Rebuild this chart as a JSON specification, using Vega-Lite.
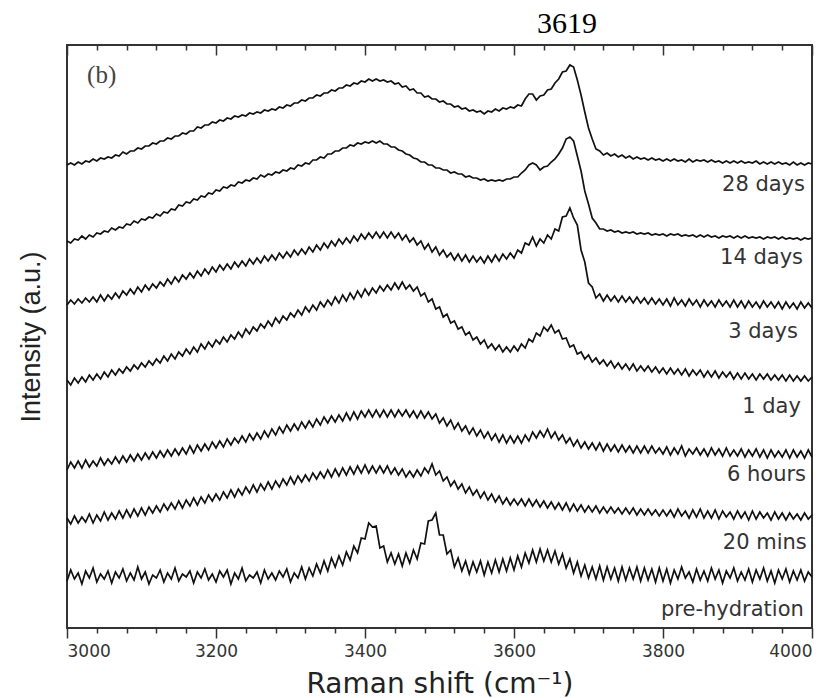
{
  "$schema": "https://vega.github.io/schema/vega-lite/v6.json",
  "width": 745,
  "height": 583,
  "autosize": "none",
  "padding": {"left": 67, "top": 45, "right": 26, "bottom": 70},
  "background": "white",
  "config": {"view": {"stroke": "#333", "strokeWidth": 2}, "font": "Liberation Sans", "axis": {"ticks": true}},
  "datasets": {
    "spectra": [
      {"x":3000,"a":463,"b":387,"c":323,"d":248,"e":158,"f":110,"g":47},
      {"x":3005,"a":465,"b":385,"c":328,"d":243,"e":166,"f":104,"g":58},
      {"x":3010,"a":463,"b":389,"c":324,"d":250,"e":160,"f":112,"g":49},
      {"x":3015,"a":466,"b":388,"c":329,"d":245,"e":167,"f":105,"g":55},
      {"x":3020,"a":464,"b":392,"c":325,"d":251,"e":160,"f":111,"g":44},
      {"x":3025,"a":467,"b":389,"c":330,"d":246,"e":168,"f":106,"g":57},
      {"x":3030,"a":466,"b":393,"c":326,"d":253,"e":161,"f":114,"g":50},
      {"x":3035,"a":469,"b":391,"c":331,"d":248,"e":167,"f":105,"g":60},
      {"x":3040,"a":467,"b":395,"c":326,"d":254,"e":162,"f":113,"g":46},
      {"x":3045,"a":470,"b":394,"c":333,"d":249,"e":170,"f":107,"g":54},
      {"x":3050,"a":469,"b":397,"c":327,"d":256,"e":163,"f":116,"g":49},
      {"x":3055,"a":471,"b":396,"c":333,"d":251,"e":169,"f":108,"g":57},
      {"x":3060,"a":470,"b":400,"c":329,"d":258,"e":164,"f":115,"g":45},
      {"x":3065,"a":473,"b":398,"c":335,"d":253,"e":171,"f":109,"g":56},
      {"x":3070,"a":472,"b":401,"c":330,"d":259,"e":165,"f":117,"g":50},
      {"x":3075,"a":476,"b":400,"c":337,"d":255,"e":172,"f":110,"g":59},
      {"x":3080,"a":474,"b":404,"c":333,"d":261,"e":166,"f":118,"g":47},
      {"x":3085,"a":477,"b":403,"c":339,"d":257,"e":173,"f":111,"g":55},
      {"x":3090,"a":477,"b":407,"c":334,"d":263,"e":167,"f":119,"g":48},
      {"x":3095,"a":480,"b":405,"c":341,"d":259,"e":174,"f":112,"g":61},
      {"x":3100,"a":479,"b":409,"c":336,"d":265,"e":168,"f":120,"g":49},
      {"x":3105,"a":482,"b":408,"c":343,"d":261,"e":175,"f":113,"g":56},
      {"x":3110,"a":482,"b":411,"c":338,"d":267,"e":169,"f":121,"g":44},
      {"x":3115,"a":485,"b":410,"c":344,"d":263,"e":176,"f":115,"g":53},
      {"x":3120,"a":484,"b":414,"c":340,"d":269,"e":170,"f":122,"g":50},
      {"x":3125,"a":487,"b":412,"c":346,"d":265,"e":177,"f":116,"g":58},
      {"x":3130,"a":487,"b":416,"c":342,"d":272,"e":171,"f":124,"g":46},
      {"x":3135,"a":490,"b":415,"c":349,"d":267,"e":178,"f":118,"g":55},
      {"x":3140,"a":489,"b":419,"c":344,"d":274,"e":172,"f":125,"g":49},
      {"x":3145,"a":492,"b":418,"c":351,"d":269,"e":179,"f":119,"g":60},
      {"x":3150,"a":492,"b":423,"c":346,"d":276,"e":173,"f":127,"g":47},
      {"x":3155,"a":495,"b":422,"c":353,"d":272,"e":180,"f":120,"g":54},
      {"x":3160,"a":494,"b":426,"c":349,"d":279,"e":174,"f":128,"g":51},
      {"x":3165,"a":497,"b":425,"c":355,"d":274,"e":182,"f":122,"g":57},
      {"x":3170,"a":497,"b":429,"c":350,"d":281,"e":175,"f":130,"g":45},
      {"x":3175,"a":501,"b":428,"c":357,"d":276,"e":183,"f":123,"g":56},
      {"x":3180,"a":500,"b":432,"c":352,"d":284,"e":177,"f":131,"g":50},
      {"x":3185,"a":503,"b":431,"c":359,"d":279,"e":184,"f":125,"g":59},
      {"x":3190,"a":503,"b":435,"c":354,"d":286,"e":178,"f":133,"g":48},
      {"x":3195,"a":506,"b":434,"c":361,"d":281,"e":186,"f":127,"g":54},
      {"x":3200,"a":505,"b":438,"c":356,"d":288,"e":180,"f":134,"g":46},
      {"x":3205,"a":508,"b":437,"c":363,"d":284,"e":187,"f":128,"g":57},
      {"x":3210,"a":507,"b":441,"c":358,"d":291,"e":181,"f":136,"g":51},
      {"x":3215,"a":510,"b":440,"c":364,"d":286,"e":189,"f":130,"g":58},
      {"x":3220,"a":509,"b":443,"c":359,"d":293,"e":183,"f":138,"g":44},
      {"x":3225,"a":512,"b":442,"c":366,"d":289,"e":190,"f":131,"g":55},
      {"x":3230,"a":511,"b":446,"c":361,"d":296,"e":185,"f":139,"g":49},
      {"x":3235,"a":513,"b":445,"c":367,"d":291,"e":192,"f":133,"g":60},
      {"x":3240,"a":512,"b":448,"c":362,"d":299,"e":186,"f":141,"g":47},
      {"x":3245,"a":515,"b":447,"c":369,"d":294,"e":194,"f":135,"g":53},
      {"x":3250,"a":514,"b":450,"c":364,"d":301,"e":188,"f":143,"g":50},
      {"x":3255,"a":516,"b":449,"c":370,"d":297,"e":195,"f":136,"g":56},
      {"x":3260,"a":515,"b":453,"c":365,"d":304,"e":189,"f":144,"g":45},
      {"x":3265,"a":518,"b":451,"c":372,"d":300,"e":197,"f":138,"g":58},
      {"x":3270,"a":517,"b":454,"c":367,"d":307,"e":191,"f":146,"g":49},
      {"x":3275,"a":519,"b":453,"c":373,"d":302,"e":199,"f":139,"g":55},
      {"x":3280,"a":518,"b":456,"c":368,"d":310,"e":193,"f":147,"g":48},
      {"x":3285,"a":521,"b":455,"c":375,"d":305,"e":201,"f":141,"g":57},
      {"x":3290,"a":520,"b":458,"c":370,"d":312,"e":195,"f":149,"g":51},
      {"x":3295,"a":523,"b":457,"c":376,"d":308,"e":203,"f":143,"g":59},
      {"x":3300,"a":522,"b":460,"c":371,"d":315,"e":197,"f":151,"g":46},
      {"x":3305,"a":525,"b":459,"c":378,"d":311,"e":204,"f":144,"g":55},
      {"x":3310,"a":525,"b":463,"c":373,"d":318,"e":198,"f":152,"g":50},
      {"x":3315,"a":528,"b":462,"c":379,"d":313,"e":206,"f":146,"g":61},
      {"x":3320,"a":527,"b":465,"c":374,"d":321,"e":200,"f":153,"g":49},
      {"x":3325,"a":530,"b":464,"c":381,"d":316,"e":207,"f":147,"g":60},
      {"x":3330,"a":530,"b":468,"c":376,"d":323,"e":201,"f":155,"g":52},
      {"x":3335,"a":533,"b":468,"c":383,"d":318,"e":209,"f":149,"g":64},
      {"x":3340,"a":532,"b":471,"c":378,"d":326,"e":203,"f":156,"g":55},
      {"x":3345,"a":535,"b":470,"c":385,"d":321,"e":211,"f":150,"g":67},
      {"x":3350,"a":535,"b":474,"c":380,"d":328,"e":205,"f":158,"g":57},
      {"x":3355,"a":538,"b":474,"c":387,"d":323,"e":212,"f":151,"g":70},
      {"x":3360,"a":537,"b":477,"c":382,"d":331,"e":206,"f":159,"g":61},
      {"x":3365,"a":540,"b":477,"c":389,"d":325,"e":213,"f":152,"g":72},
      {"x":3370,"a":540,"b":480,"c":384,"d":333,"e":207,"f":160,"g":63},
      {"x":3375,"a":543,"b":480,"c":390,"d":327,"e":215,"f":153,"g":76},
      {"x":3380,"a":542,"b":483,"c":385,"d":335,"e":208,"f":161,"g":68},
      {"x":3385,"a":545,"b":482,"c":392,"d":329,"e":216,"f":154,"g":82},
      {"x":3390,"a":544,"b":485,"c":387,"d":337,"e":209,"f":162,"g":75},
      {"x":3395,"a":547,"b":484,"c":394,"d":331,"e":217,"f":155,"g":90},
      {"x":3400,"a":546,"b":486,"c":389,"d":339,"e":211,"f":163,"g":89},
      {"x":3405,"a":549,"b":485,"c":395,"d":333,"e":218,"f":155,"g":105},
      {"x":3410,"a":547,"b":487,"c":390,"d":340,"e":211,"f":162,"g":101},
      {"x":3415,"a":549,"b":485,"c":396,"d":335,"e":218,"f":155,"g":102},
      {"x":3420,"a":547,"b":487,"c":390,"d":342,"e":211,"f":162,"g":80},
      {"x":3425,"a":548,"b":484,"c":396,"d":337,"e":218,"f":155,"g":82},
      {"x":3430,"a":546,"b":484,"c":390,"d":343,"e":211,"f":162,"g":66},
      {"x":3435,"a":547,"b":481,"c":396,"d":338,"e":218,"f":154,"g":75},
      {"x":3440,"a":544,"b":481,"c":390,"d":345,"e":211,"f":160,"g":64},
      {"x":3445,"a":545,"b":478,"c":395,"d":339,"e":218,"f":153,"g":74},
      {"x":3450,"a":541,"b":477,"c":388,"d":346,"e":212,"f":159,"g":62},
      {"x":3455,"a":542,"b":474,"c":393,"d":339,"e":218,"f":151,"g":75},
      {"x":3460,"a":538,"b":473,"c":386,"d":343,"e":211,"f":157,"g":65},
      {"x":3465,"a":539,"b":470,"c":390,"d":337,"e":217,"f":151,"g":78},
      {"x":3470,"a":535,"b":469,"c":383,"d":341,"e":210,"f":158,"g":69},
      {"x":3475,"a":535,"b":466,"c":387,"d":332,"e":217,"f":152,"g":85},
      {"x":3480,"a":531,"b":466,"c":379,"d":335,"e":210,"f":160,"g":84},
      {"x":3485,"a":532,"b":463,"c":384,"d":326,"e":216,"f":155,"g":107},
      {"x":3490,"a":529,"b":463,"c":376,"d":329,"e":209,"f":164,"g":108},
      {"x":3495,"a":529,"b":460,"c":381,"d":319,"e":214,"f":153,"g":115},
      {"x":3500,"a":526,"b":460,"c":373,"d":321,"e":205,"f":157,"g":93},
      {"x":3505,"a":527,"b":458,"c":378,"d":311,"e":210,"f":147,"g":93},
      {"x":3510,"a":524,"b":458,"c":371,"d":314,"e":202,"f":151,"g":74},
      {"x":3515,"a":524,"b":455,"c":375,"d":305,"e":208,"f":142,"g":78},
      {"x":3520,"a":521,"b":456,"c":368,"d":307,"e":199,"f":147,"g":61},
      {"x":3525,"a":522,"b":454,"c":374,"d":299,"e":205,"f":139,"g":70},
      {"x":3530,"a":519,"b":454,"c":367,"d":301,"e":197,"f":144,"g":57},
      {"x":3535,"a":520,"b":451,"c":373,"d":293,"e":202,"f":135,"g":67},
      {"x":3540,"a":517,"b":452,"c":366,"d":296,"e":194,"f":141,"g":54},
      {"x":3545,"a":518,"b":450,"c":372,"d":288,"e":200,"f":133,"g":66},
      {"x":3550,"a":516,"b":450,"c":366,"d":291,"e":192,"f":138,"g":56},
      {"x":3555,"a":517,"b":448,"c":371,"d":284,"e":198,"f":130,"g":67},
      {"x":3560,"a":514,"b":449,"c":365,"d":288,"e":190,"f":136,"g":53},
      {"x":3565,"a":517,"b":447,"c":372,"d":280,"e":196,"f":128,"g":66},
      {"x":3570,"a":516,"b":448,"c":366,"d":284,"e":188,"f":134,"g":55},
      {"x":3575,"a":519,"b":447,"c":373,"d":278,"e":194,"f":126,"g":68},
      {"x":3580,"a":517,"b":448,"c":367,"d":283,"e":186,"f":132,"g":56},
      {"x":3585,"a":520,"b":447,"c":374,"d":276,"e":193,"f":124,"g":69},
      {"x":3590,"a":519,"b":449,"c":369,"d":281,"e":185,"f":130,"g":57},
      {"x":3595,"a":521,"b":449,"c":375,"d":276,"e":192,"f":123,"g":70},
      {"x":3600,"a":520,"b":451,"c":370,"d":282,"e":185,"f":129,"g":58},
      {"x":3605,"a":523,"b":451,"c":378,"d":277,"e":192,"f":123,"g":72},
      {"x":3610,"a":522,"b":455,"c":375,"d":284,"e":185,"f":129,"g":61},
      {"x":3615,"a":529,"b":458,"c":385,"d":280,"e":193,"f":122,"g":75},
      {"x":3620,"a":534,"b":463,"c":383,"d":289,"e":187,"f":129,"g":65},
      {"x":3625,"a":534,"b":465,"c":391,"d":286,"e":196,"f":122,"g":78},
      {"x":3630,"a":528,"b":463,"c":382,"d":295,"e":190,"f":128,"g":66},
      {"x":3635,"a":532,"b":458,"c":389,"d":292,"e":197,"f":121,"g":79},
      {"x":3640,"a":533,"b":461,"c":385,"d":301,"e":191,"f":127,"g":67},
      {"x":3645,"a":538,"b":462,"c":393,"d":297,"e":199,"f":120,"g":78},
      {"x":3650,"a":539,"b":466,"c":389,"d":303,"e":190,"f":126,"g":66},
      {"x":3655,"a":545,"b":469,"c":399,"d":295,"e":196,"f":119,"g":77},
      {"x":3660,"a":549,"b":474,"c":397,"d":298,"e":188,"f":125,"g":64},
      {"x":3665,"a":556,"b":480,"c":411,"d":289,"e":193,"f":118,"g":74},
      {"x":3670,"a":557,"b":489,"c":412,"d":290,"e":185,"f":125,"g":60},
      {"x":3675,"a":563,"b":491,"c":420,"d":281,"e":190,"f":117,"g":69},
      {"x":3680,"a":561,"b":487,"c":410,"d":283,"e":182,"f":124,"g":55},
      {"x":3685,"a":548,"b":472,"c":403,"d":274,"e":188,"f":117,"g":66},
      {"x":3690,"a":533,"b":457,"c":378,"d":276,"e":180,"f":123,"g":52},
      {"x":3695,"a":516,"b":437,"c":366,"d":269,"e":186,"f":116,"g":63},
      {"x":3700,"a":500,"b":424,"c":345,"d":273,"e":179,"f":122,"g":50},
      {"x":3705,"a":489,"b":410,"c":341,"d":266,"e":185,"f":116,"g":61},
      {"x":3710,"a":479,"b":405,"c":330,"d":270,"e":178,"f":122,"g":49},
      {"x":3715,"a":477,"b":399,"c":334,"d":264,"e":185,"f":115,"g":62},
      {"x":3720,"a":473,"b":399,"c":327,"d":268,"e":177,"f":121,"g":48},
      {"x":3725,"a":475,"b":397,"c":333,"d":262,"e":184,"f":115,"g":61},
      {"x":3730,"a":472,"b":398,"c":327,"d":267,"e":177,"f":121,"g":49},
      {"x":3735,"a":474,"b":396,"c":332,"d":260,"e":183,"f":115,"g":60},
      {"x":3740,"a":471,"b":397,"c":326,"d":265,"e":176,"f":120,"g":47},
      {"x":3745,"a":473,"b":395,"c":332,"d":259,"e":183,"f":114,"g":61},
      {"x":3750,"a":470,"b":396,"c":326,"d":264,"e":176,"f":120,"g":48},
      {"x":3755,"a":472,"b":395,"c":331,"d":258,"e":182,"f":114,"g":60},
      {"x":3760,"a":469,"b":396,"c":325,"d":264,"e":175,"f":120,"g":49},
      {"x":3765,"a":471,"b":394,"c":331,"d":257,"e":182,"f":113,"g":61},
      {"x":3770,"a":469,"b":395,"c":325,"d":262,"e":175,"f":119,"g":47},
      {"x":3775,"a":470,"b":394,"c":330,"d":257,"e":182,"f":113,"g":60},
      {"x":3780,"a":468,"b":395,"c":324,"d":262,"e":175,"f":119,"g":48},
      {"x":3785,"a":470,"b":393,"c":330,"d":256,"e":182,"f":113,"g":59},
      {"x":3790,"a":468,"b":394,"c":324,"d":261,"e":175,"f":118,"g":46},
      {"x":3795,"a":469,"b":393,"c":329,"d":255,"e":180,"f":112,"g":60},
      {"x":3800,"a":467,"b":394,"c":323,"d":260,"e":174,"f":118,"g":47},
      {"x":3805,"a":469,"b":392,"c":329,"d":254,"e":181,"f":112,"g":59},
      {"x":3810,"a":467,"b":394,"c":322,"d":260,"e":173,"f":118,"g":45},
      {"x":3815,"a":469,"b":393,"c":330,"d":254,"e":180,"f":111,"g":58},
      {"x":3820,"a":467,"b":394,"c":323,"d":259,"e":174,"f":119,"g":49},
      {"x":3825,"a":468,"b":392,"c":328,"d":253,"e":182,"f":112,"g":61},
      {"x":3830,"a":466,"b":393,"c":322,"d":259,"e":172,"f":117,"g":50},
      {"x":3835,"a":469,"b":392,"c":329,"d":252,"e":179,"f":110,"g":56},
      {"x":3840,"a":466,"b":393,"c":323,"d":258,"e":174,"f":118,"g":46},
      {"x":3845,"a":468,"b":391,"c":328,"d":253,"e":180,"f":111,"g":59},
      {"x":3850,"a":467,"b":393,"c":321,"d":258,"e":173,"f":119,"g":48},
      {"x":3855,"a":468,"b":391,"c":328,"d":251,"e":179,"f":110,"g":57},
      {"x":3860,"a":466,"b":393,"c":322,"d":257,"e":172,"f":117,"g":47},
      {"x":3865,"a":468,"b":391,"c":327,"d":251,"e":180,"f":110,"g":60},
      {"x":3870,"a":466,"b":392,"c":321,"d":257,"e":173,"f":118,"g":49},
      {"x":3875,"a":467,"b":390,"c":328,"d":250,"e":179,"f":109,"g":58},
      {"x":3880,"a":465,"b":392,"c":322,"d":256,"e":172,"f":117,"g":45},
      {"x":3885,"a":467,"b":391,"c":327,"d":251,"e":180,"f":111,"g":57},
      {"x":3890,"a":465,"b":392,"c":321,"d":256,"e":172,"f":116,"g":50},
      {"x":3895,"a":467,"b":390,"c":328,"d":249,"e":178,"f":109,"g":60},
      {"x":3900,"a":465,"b":392,"c":321,"d":255,"e":172,"f":117,"g":47},
      {"x":3905,"a":467,"b":390,"c":327,"d":249,"e":179,"f":110,"g":56},
      {"x":3910,"a":465,"b":392,"c":320,"d":255,"e":171,"f":116,"g":48},
      {"x":3915,"a":466,"b":390,"c":327,"d":249,"e":178,"f":108,"g":59},
      {"x":3920,"a":465,"b":391,"c":321,"d":254,"e":172,"f":117,"g":46},
      {"x":3925,"a":467,"b":390,"c":326,"d":248,"e":179,"f":109,"g":58},
      {"x":3930,"a":464,"b":391,"c":320,"d":254,"e":171,"f":116,"g":49},
      {"x":3935,"a":466,"b":389,"c":327,"d":249,"e":178,"f":110,"g":60},
      {"x":3940,"a":464,"b":391,"c":321,"d":254,"e":170,"f":115,"g":47},
      {"x":3945,"a":466,"b":390,"c":326,"d":248,"e":178,"f":108,"g":57},
      {"x":3950,"a":464,"b":391,"c":320,"d":253,"e":171,"f":116,"g":45},
      {"x":3955,"a":466,"b":389,"c":326,"d":248,"e":177,"f":109,"g":58},
      {"x":3960,"a":464,"b":391,"c":319,"d":253,"e":171,"f":115,"g":49},
      {"x":3965,"a":465,"b":389,"c":326,"d":247,"e":178,"f":108,"g":59},
      {"x":3970,"a":463,"b":390,"c":320,"d":253,"e":170,"f":115,"g":46},
      {"x":3975,"a":466,"b":389,"c":325,"d":247,"e":178,"f":109,"g":57},
      {"x":3980,"a":463,"b":390,"c":319,"d":252,"e":171,"f":114,"g":48},
      {"x":3985,"a":465,"b":388,"c":326,"d":247,"e":177,"f":108,"g":58},
      {"x":3990,"a":463,"b":390,"c":320,"d":252,"e":170,"f":115,"g":47},
      {"x":3995,"a":465,"b":389,"c":325,"d":247,"e":178,"f":109,"g":56},
      {"x":4000,"a":464,"b":390,"c":320,"d":251,"e":171,"f":113,"g":51}
    ],
    "labels": [
      {"label": "28 days", "x": 3990.6, "y": 443},
      {"label": "14 days", "x": 3988, "y": 370},
      {"label": "3 days", "x": 3981, "y": 296},
      {"label": "1 day", "x": 3985, "y": 221},
      {"label": "6 hours", "x": 3992, "y": 153},
      {"label": "20 mins", "x": 3993, "y": 85},
      {"label": "pre-hydration", "x": 3989, "y": 18}
    ]
  },
  "layer": [
    {
      "data": {"name": "spectra"},
      "transform": [{"fold": ["a", "b", "c", "d", "e", "f", "g"], "as": ["s", "y"]}],
      "mark": {"type": "line", "color": "#111", "strokeWidth": 1.7},
      "encoding": {
        "x": {
          "field": "x", "type": "quantitative",
          "scale": {"domain": [3000, 4000], "nice": false, "zero": false},
          "axis": {
            "orient": "bottom",
            "values": [3000,3040,3080,3120,3160,3200,3240,3280,3320,3360,3400,3440,3480,3520,3560,3600,3640,3680,3720,3760,3800,3840,3880,3920,3960,4000],
            "format": "d", "ticks": true,
            "labelExpr": "datum.value % 200 === 0 ? datum.label : ''",
            "tickSize": {"condition": {"test": "datum.value % 200 === 0", "value": 10}, "value": 5},
            "tickColor": "#333", "tickWidth": 1.5,
            "domain": false, "grid": false,
            "labelFont": "DejaVu Sans", "labelFontSize": 17, "labelColor": "#333",
            "labelPadding": 5,
            "title": "Raman shift (cm⁻¹)",
            "titleFont": "DejaVu Sans", "titleFontSize": 28, "titleFontWeight": "normal",
            "titleColor": "#222", "titlePadding": 11
          }
        },
        "y": {
          "field": "y", "type": "quantitative",
          "scale": {"domain": [0, 583], "nice": false, "zero": false},
          "axis": {
            "title": "Intensity (a.u.)",
            "ticks": false, "labels": false, "domain": false, "grid": false,
            "titleFont": "Liberation Sans", "titleFontSize": 27,
            "titleFontWeight": "normal", "titleColor": "#222", "titlePadding": 22
          }
        },
        "detail": {"field": "s"}
      }
    },
    {
      "data": {"name": "labels"},
      "mark": {"type": "text", "align": "right", "baseline": "middle", "font": "DejaVu Sans", "fontSize": 21, "color": "#333"},
      "encoding": {
        "x": {
          "field": "x", "type": "quantitative",
          "axis": {
            "orient": "top",
            "values": [3000,3040,3080,3120,3160,3200,3240,3280,3320,3360,3400,3440,3480,3520,3560,3600,3640,3680,3720,3760,3800,3840,3880,3920,3960,4000],
            "labels": false, "domain": false, "grid": false, "title": null, "ticks": true,
            "tickSize": {"condition": {"test": "datum.value % 200 === 0", "value": -10}, "value": -5},
            "tickColor": "#333", "tickWidth": 1.5
          }
        },
        "y": {"field": "y", "type": "quantitative", "axis": null},
        "text": {"field": "label"}
      }
    },
    {
      "data": {"values": [{"note": "3619", "x": 3671, "y": 595}]},
      "mark": {"type": "text", "align": "center", "baseline": "alphabetic", "font": "Liberation Serif", "fontSize": 30, "color": "#000"},
      "encoding": {
        "x": {"field": "x", "type": "quantitative", "axis": null},
        "y": {"field": "y", "type": "quantitative", "axis": null},
        "text": {"field": "note"}
      }
    },
    {
      "data": {"values": [{"note": "(b)", "x": 3027, "y": 545}]},
      "mark": {"type": "text", "align": "left", "baseline": "alphabetic", "font": "Liberation Serif", "fontSize": 25, "color": "#444"},
      "encoding": {
        "x": {"field": "x", "type": "quantitative", "axis": null},
        "y": {"field": "y", "type": "quantitative", "axis": null},
        "text": {"field": "note"}
      }
    }
  ],
  "resolve": {"axis": {"x": "independent", "y": "independent"}}
}
